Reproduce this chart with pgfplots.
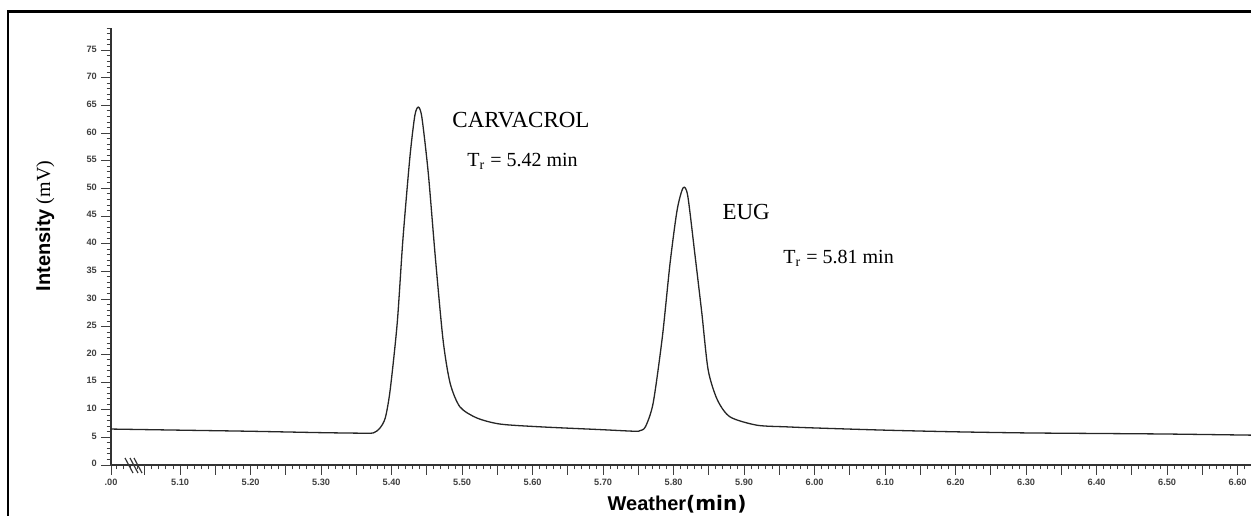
\documentclass[border=0pt]{standalone}
\usepackage{fontspec}
\setmainfont{Liberation Serif}
\setsansfont{Liberation Sans}
\newfontfamily\dejavu{DejaVu Sans}
\usepackage{pgfplots}
\usepackage{pgfplotstable}
\pgfplotsset{compat=1.18}

\pgfplotstableread{
t v
5.002 6.5
5.100 6.3
5.200 6.1
5.300 5.85
5.360 5.75
5.374 5.8
5.383 6.6
5.391 8.5
5.398 13.6
5.408 25.7
5.416 40.7
5.426 55.7
5.433 63.2
5.438 64.7
5.443 62.8
5.452 52.8
5.462 37.6
5.473 22.6
5.483 14.8
5.497 10.5
5.521 8.5
5.554 7.4
5.611 6.9
5.696 6.4
5.745 6.1
5.752 6.2
5.760 6.9
5.771 11.2
5.784 23.1
5.795 36.5
5.805 46.1
5.8135 50.1
5.820 48.7
5.830 38.3
5.840 27.5
5.849 17.2
5.862 11.8
5.880 8.7
5.918 7.2
5.960 6.9
6.000 6.7
6.100 6.3
6.200 6.0
6.300 5.8
6.400 5.7
6.500 5.6
6.619 5.4
}\chrom

\begin{document}
\begin{tikzpicture}
\useasboundingbox (0pt,0pt) rectangle (625.5pt,257.5pt);
\clip (0pt,0pt) rectangle (625.5pt,257.5pt);
% frame
\draw[line width=1.4pt, black] (4pt,-10pt) -- (4pt,251.75pt) -- (640pt,251.75pt);
\begin{axis}[
  at={(55.5pt,25pt)}, anchor=south west,
  scale only axis, width=570pt, height=218.5pt,
  xmin=5.002, xmax=6.619, ymin=0, ymax=79,
  axis x line*=bottom, axis y line*=left,
  axis line style={line width=0.7pt, black!80},
  tick align=outside,
  major tick length=4.8pt, minor tick length=2.2pt,
  every tick/.style={black!75, line width=0.5pt},
  xtick={5.002,5.1,5.2,5.3,5.4,5.5,5.6,5.7,5.8,5.9,6.0,6.1,6.2,6.3,6.4,6.5,6.6},
  xticklabels={.00,5.10,5.20,5.30,5.40,5.50,5.60,5.70,5.80,5.90,6.00,6.10,6.20,6.30,6.40,6.50,6.60},
  extra x ticks={5.05,5.15,5.25,5.35,5.45,5.55,5.65,5.75,5.85,5.95,6.05,6.15,6.25,6.35,6.45,6.55},
  extra x tick labels={},
  minor xtick={5.01,5.02,...,6.615},
  ytick={0,5,...,75},
  minor ytick={0,1,...,79},
  /pgf/number format/assume math mode=true,
  tick label style={font=\fontsize{4.6}{5}\selectfont\bfseries\sffamily, black!75},
  xticklabel style={yshift=1.5pt},
  yticklabel style={xshift=1.2pt, yshift=0.6pt},
  xlabel={{\sffamily\bfseries Weather}{\dejavu\bfseries(min)}},
  xlabel style={at={(rel axis cs:0.4965,-0.104)}, anchor=base, font=\fontsize{10}{12}\selectfont, inner sep=0pt},
  ylabel={{\sffamily\bfseries Intensity} {\rmfamily(mV)}},
  ylabel style={at={(rel axis cs:-0.0579,0.547)}, anchor=center, rotate=0, font=\fontsize{10}{12}\selectfont, inner sep=0pt},
  clip=false,
]
\addplot[black!85, line width=0.65pt, smooth, tension=0.45] table[x=t, y=v] {\chrom};
\node[anchor=base west, font=\fontsize{11.5}{13}\selectfont, inner sep=0pt] at (axis cs:5.4858,61.1) {CARVACROL};
\node[anchor=base west, font=\fontsize{10}{12}\selectfont, inner sep=0pt] at (axis cs:5.507,53.9) {T\textsubscript{r} = 5.42 min};
\node[anchor=base west, font=\fontsize{11.5}{13}\selectfont, inner sep=0pt] at (axis cs:5.8688,44.3) {EUG};
\node[anchor=base west, font=\fontsize{10}{12}\selectfont, inner sep=0pt] at (axis cs:5.9553,36.5) {T\textsubscript{r} = 5.81 min};
\end{axis}
% axis break marks
\draw[black!80, line width=0.6pt] (62.5pt,28.5pt) -- (66.5pt,21pt);
\draw[black!80, line width=0.6pt] (65pt,28.5pt) -- (69pt,21pt);
\draw[black!80, line width=0.6pt] (67pt,28.5pt) -- (71pt,21pt);
\end{tikzpicture}
\end{document}
